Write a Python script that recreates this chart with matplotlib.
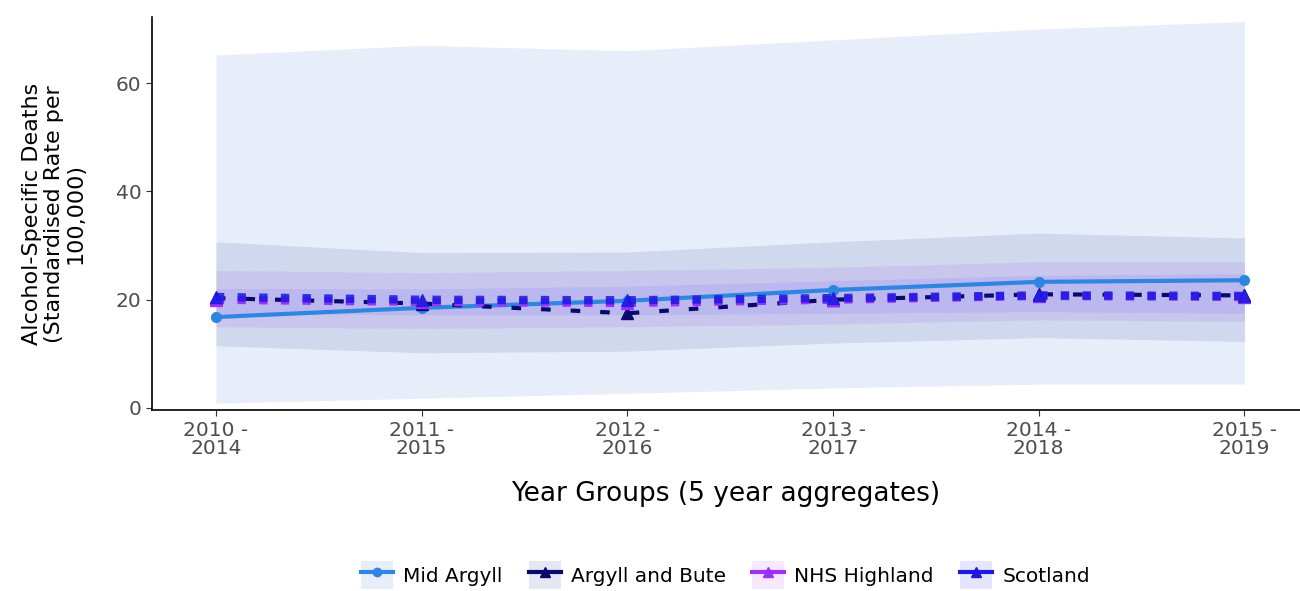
import matplotlib.pyplot as plt
import numpy as np
from matplotlib.patches import Patch
from matplotlib.lines import Line2D
from matplotlib.legend_handler import HandlerTuple

plt.rcParams['font.family'] = ['DejaVu Sans']

years = ['2010 -\n2014', '2011 -\n2015', '2012 -\n2016', '2013 -\n2017', '2014 -\n2018', '2015 -\n2019']

mid_argyll = [16.8, 18.5, 19.8, 21.8, 23.3, 23.6]
mid_argyll_lo = [0.9, 1.8, 2.7, 3.7, 4.4, 4.4]
mid_argyll_hi = [65.2, 67.0, 66.0, 68.0, 70.0, 71.4]

argyll_bute = [20.3, 19.3, 17.5, 20.0, 21.0, 20.8]
argyll_bute_lo = [11.5, 10.2, 10.5, 12.0, 13.0, 12.3]
argyll_bute_hi = [30.7, 28.7, 28.8, 30.7, 32.3, 31.4]

nhs_highland = [20.0, 19.6, 19.4, 20.0, 20.7, 20.5]
nhs_highland_lo = [15.0, 14.7, 15.0, 15.5, 16.3, 16.0]
nhs_highland_hi = [25.4, 25.0, 25.4, 26.0, 27.0, 27.0]

scotland = [20.5, 20.0, 19.9, 20.3, 20.8, 20.7]
scotland_lo = [17.5, 17.2, 17.2, 17.5, 17.8, 17.5]
scotland_hi = [22.1, 22.0, 22.5, 23.5, 24.5, 24.8]

x = np.arange(len(years))

fig = plt.figure(figsize=(13, 5.91), dpi=100)
ax = fig.add_axes([0.117, 0.306, 0.883, 0.665])

c_mid = '#2F86E0'
c_ab = '#0A0A6E'
c_nhs = '#9B30FF'
c_sco = '#1A1AE0'
f_mid = '#195FCD'
f_ab = '#001A80'
f_nhs = '#9B30FF'
f_sco = '#0000FF'

ax.fill_between(x, mid_argyll_lo, mid_argyll_hi, color=f_mid, alpha=0.1, lw=0)
ax.fill_between(x, argyll_bute_lo, argyll_bute_hi, color=f_ab, alpha=0.1, lw=0)
ax.fill_between(x, nhs_highland_lo, nhs_highland_hi, color=f_nhs, alpha=0.1, lw=0)
ax.fill_between(x, scotland_lo, scotland_hi, color=f_sco, alpha=0.07, lw=0)

ax.plot(x, mid_argyll, color=c_mid, lw=3, marker='o', ms=7, solid_capstyle='butt')
ax.plot(x, argyll_bute, color=c_ab, lw=3, ls=(0, (2.3, 4.8)), marker='^', ms=8,
        dash_capstyle='butt')
ax.plot(x, nhs_highland, color=c_nhs, lw=6, ls=(0, (1, 1.6)), marker='^', ms=8,
        dash_capstyle='butt')
ax.plot(x, scotland, color=c_sco, lw=6, ls=(0, (1, 1.6)), marker='^', ms=8,
        dash_capstyle='butt', alpha=0.85)

ax.set_xlim(-0.31, 5.27)
ax.set_ylim(-0.4, 72.2)
ax.set_yticks([0, 20, 40, 60])
ax.set_xticks(x)
ax.set_xticklabels(years, linespacing=0.95)
ax.tick_params(axis='both', labelsize=14.5, colors='#4D4D4D', length=4)
ax.tick_params(axis='both', color='#333333')
for s in ['top', 'right']:
    ax.spines[s].set_visible(False)
for s in ['left', 'bottom']:
    ax.spines[s].set_linewidth(1.2)

ax.set_xlabel('Year Groups (5 year aggregates)', fontsize=19)
ax.xaxis.set_label_coords(0.5, -0.18)
ax.set_ylabel('Alcohol-Specific Deaths\n(Standardised Rate per\n100,000)', fontsize=16,
              linespacing=1.1)
ax.yaxis.set_label_coords(-0.058, 0.5)

handles = [
    (Patch(facecolor=f_mid, alpha=0.1), Line2D([], [], color=c_mid, lw=3, marker='o', ms=6)),
    (Patch(facecolor=f_ab, alpha=0.1), Line2D([], [], color=c_ab, lw=3, marker='^', ms=7)),
    (Patch(facecolor=f_nhs, alpha=0.1), Line2D([], [], color=c_nhs, lw=3, marker='^', ms=7)),
    (Patch(facecolor=f_sco, alpha=0.1), Line2D([], [], color=c_sco, lw=3, marker='^', ms=7)),
]
labels = ['Mid Argyll', 'Argyll and Bute', 'NHS Highland', 'Scotland']
fig.legend(handles, labels, handler_map={tuple: HandlerTuple(ndivide=1, pad=0)},
           loc='center', bbox_to_anchor=(0.558, 0.027), ncol=4, frameon=False,
           fontsize=14.5, handlelength=1.6, handleheight=1.7, handletextpad=0.5,
           columnspacing=1.3)

fig.savefig('out.png', dpi=100)
